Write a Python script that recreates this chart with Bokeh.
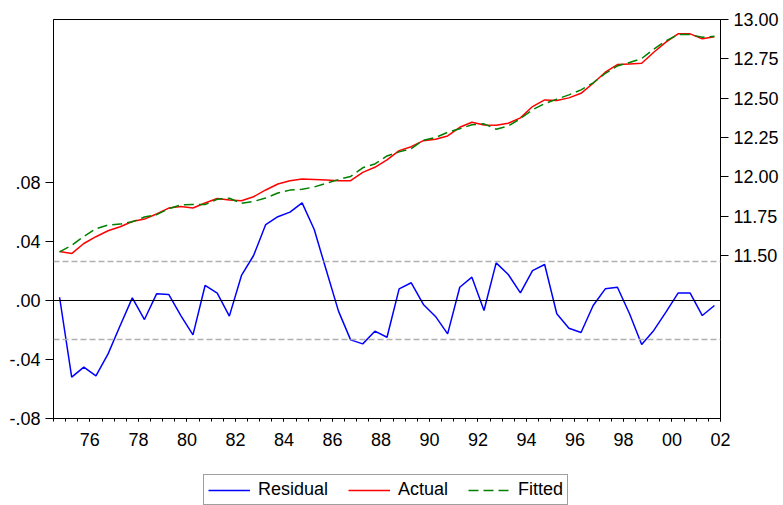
from bokeh.plotting import figure
from bokeh.layouts import column
from bokeh.models import (LinearAxis, Range1d, FixedTicker, CustomJSTickFormatter,
                          Span, Legend, LegendItem)
from bokeh.embed import file_html
from bokeh.resources import INLINE

# ---- data (semiannual, 1975S1 .. 2002S1) ----
start_year = 1975
residual = [0.0022, -0.0520, -0.0452, -0.0511, -0.0362, -0.0170, 0.0018, -0.0129, 0.0045, 0.0041,
            -0.0102, -0.0233, 0.0102, 0.0050, -0.0106, 0.0170, 0.0305, 0.0515, 0.0568, 0.0599,
            0.0662, 0.0481, 0.0203, -0.0072, -0.0267, -0.0294, -0.0208, -0.0249, 0.0079, 0.0120,
            -0.0027, -0.0108, -0.0226, 0.0090, 0.0158, -0.0068, 0.0255, 0.0176, 0.0052, 0.0203,
            0.0244, -0.0090, -0.0188, -0.0217, -0.0034, 0.0079, 0.0090, -0.0090, -0.0298, -0.0203,
            -0.0079, 0.0050, 0.0050, -0.0102, -0.0034]
actual = [11.526, 11.513, 11.577, 11.620, 11.658, 11.683, 11.717, 11.732, 11.764, 11.802,
          11.812, 11.802, 11.834, 11.863, 11.853, 11.849, 11.874, 11.917, 11.955, 11.976,
          11.987, 11.984, 11.980, 11.976, 11.976, 12.029, 12.061, 12.108, 12.167, 12.192,
          12.230, 12.239, 12.260, 12.315, 12.347, 12.330, 12.328, 12.341, 12.375, 12.447,
          12.489, 12.485, 12.502, 12.531, 12.595, 12.665, 12.714, 12.718, 12.722, 12.792,
          12.856, 12.909, 12.909, 12.877, 12.890]
fitted = [11.524, 11.565, 11.622, 11.671, 11.694, 11.700, 11.715, 11.745, 11.760, 11.798,
          11.822, 11.825, 11.824, 11.858, 11.864, 11.832, 11.844, 11.866, 11.898, 11.916,
          11.921, 11.936, 11.960, 11.983, 12.003, 12.058, 12.082, 12.133, 12.159, 12.180,
          12.233, 12.250, 12.283, 12.306, 12.331, 12.337, 12.303, 12.323, 12.370, 12.427,
          12.465, 12.494, 12.521, 12.553, 12.598, 12.657, 12.705, 12.727, 12.752, 12.812,
          12.864, 12.904, 12.904, 12.887, 12.893]
std_err = 0.0264
left_ticks = [-0.08, -0.04, 0.00, 0.04, 0.08]
right_ticks = [11.50, 11.75, 12.00, 12.25, 12.50, 12.75, 13.00]
label_years = [1976, 1978, 1980, 1982, 1984, 1986, 1988, 1990, 1992, 1994, 1996, 1998, 2000, 2002]
tick_labels = ["76", "78", "80", "82", "84", "86", "88", "90", "92", "94", "96", "98", "00", "02"]
series_names = ["Residual", "Actual", "Fitted"]

n = len(residual)
x = [start_year + (i + 0.5) / 2 for i in range(n)]
x_end = start_year + n / 2

FONT = "Liberation Sans"
STYLES = [dict(line_color="#0000ff", line_width=1.5),
          dict(line_color="#ff0000", line_width=1.5),
          dict(line_color="#008000", line_width=1.5, line_dash="10 5")]

p = figure(width=783, height=455, output_backend="svg", toolbar_location=None,
           x_range=Range1d(start_year, x_end), y_range=Range1d(-0.08, 0.1905),
           x_axis_type=None, y_axis_type=None,
           min_border_left=53, min_border_right=63, min_border_top=19, min_border_bottom=37)
p.extra_y_ranges = {"right": Range1d(10.465, 13.0)}
p.outline_line_color = "black"
p.outline_line_width = 1
p.background_fill_color = "white"
p.border_fill_color = "white"

# reference lines (+/- 1 S.E. and zero)
p.add_layout(Span(location=std_err, dimension="width", line_color="#b0b0b0",
                  line_width=1.5, line_dash="6 3"))
p.add_layout(Span(location=-std_err, dimension="width", line_color="#b0b0b0",
                  line_width=1.5, line_dash="6 3"))
p.add_layout(Span(location=0, dimension="width", line_color="black", line_width=1))

p.line(x, residual, **STYLES[0])
p.line(x, actual, y_range_name="right", **STYLES[1])
p.line(x, fitted, y_range_name="right", **STYLES[2])


def style(ax):
    ax.axis_line_color = "black"
    ax.major_tick_line_color = "black"
    ax.major_tick_in = 0
    ax.major_tick_out = 8
    ax.minor_tick_line_color = None
    ax.major_label_text_font = FONT
    ax.major_label_text_font_size = "18px"
    ax.major_label_text_color = "black"
    ax.major_label_standoff = 5


ly = LinearAxis(ticker=FixedTicker(ticks=left_ticks),
                formatter=CustomJSTickFormatter(code="""
const s = Math.abs(tick).toFixed(2).replace(/^0/, "");
return (tick < -1e-9 ? "-" : "") + s;"""))
style(ly)
p.add_layout(ly, "left")

ry = LinearAxis(y_range_name="right", ticker=FixedTicker(ticks=right_ticks),
                formatter=CustomJSTickFormatter(code="return tick.toFixed(2);"))
style(ry)
p.add_layout(ry, "right")

# bottom axis (labels at the middle of even years, ticks every half year)
bl = LinearAxis(ticker=FixedTicker(ticks=[y + 0.5 for y in label_years],
                                   minor_ticks=[start_year + k / 2 for k in range(n + 1)]),
                formatter=CustomJSTickFormatter(args=dict(years=label_years, labels=tick_labels), code="""
const i = years.indexOf(Math.floor(tick));
return i >= 0 ? labels[i] : "";"""))
style(bl)
bl.major_tick_out = 3
bl.minor_tick_line_color = "black"
bl.minor_tick_in = 0
bl.minor_tick_out = 3
bl.major_label_standoff = 11
p.add_layout(bl, "below")

# legend strip (its frame is aligned with the main frame by the column layout)
lg = figure(width=783, height=50, output_backend="svg", toolbar_location=None,
            x_range=Range1d(0, 1), y_range=Range1d(0, 1),
            x_axis_type=None, y_axis_type=None,
            min_border_left=0, min_border_right=0, min_border_top=0, min_border_bottom=0)
lg.outline_line_color = None
lg.background_fill_color = "white"
lg.border_fill_color = "white"
items = []
for name, st in zip(series_names, STYLES):
    r = lg.line([-5, -4], [-5, -5], **st)   # off-screen proxy, only used for the legend key
    items.append(LegendItem(label=name, renderers=[r]))
legend = Legend(items=items, orientation="horizontal", location=(150, 0),
                glyph_width=42, glyph_height=20, label_standoff=8, spacing=20,
                padding=4, margin=0, label_height=20,
                border_line_color="#404040", border_line_width=1,
                background_fill_color="white",
                label_text_font=FONT, label_text_font_size="18px", label_text_color="black")
lg.add_layout(legend)

open("out.html", "w").write(file_html(column(p, lg, spacing=0), INLINE))
